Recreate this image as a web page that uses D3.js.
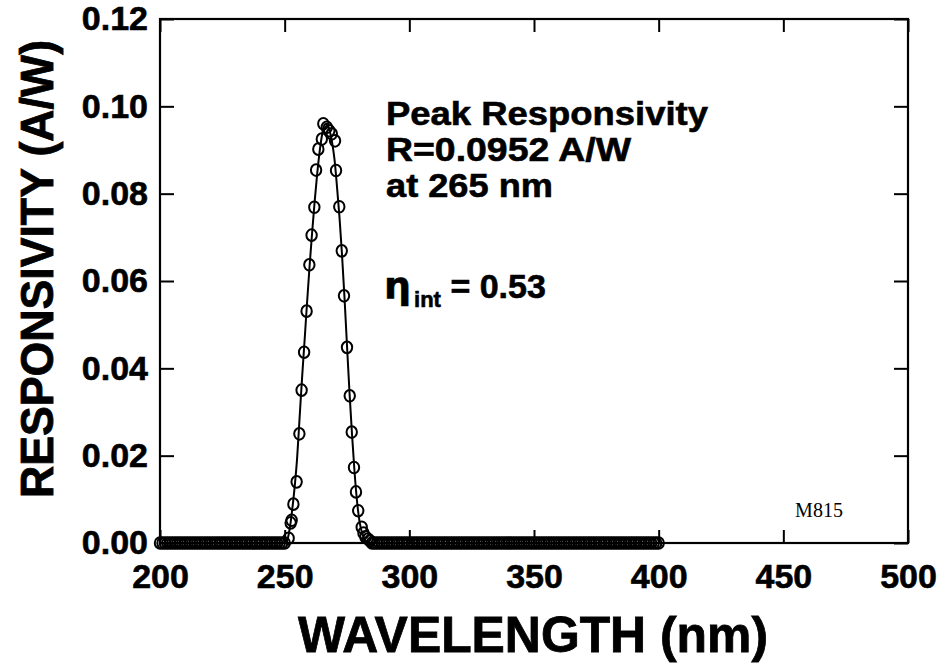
<!DOCTYPE html>
<html>
<head>
<meta charset="utf-8">
<script src="https://cdn.jsdelivr.net/npm/d3@7"></script>
<style>
  body { margin: 0; background: #fff; }
  svg { display: block; }
  .tick text { font-family: "Liberation Sans", Arial, sans-serif; font-weight: bold; }
</style>
</head>
<body>
<div id="chart"></div>
<script>
// canvas size
var svgWidth = 941;
var svgHeight = 663;

// plot frame (pixel edges of the box)
var margin = { top: 19, right: 33, bottom: 120, left: 160 };
var width = svgWidth - margin.left - margin.right;   // 748
var height = svgHeight - margin.top - margin.bottom; // 524

// measured points on the peak (wavelength nm, responsivity A/W)
var peakWl = [251.6, 252.4, 252.8, 253.5, 254.8, 255.9, 256.8, 257.8, 258.8, 259.9,
  260.8, 261.9, 262.6, 263.5, 264.9, 265.5, 266.9, 267.9, 268.9, 270.2,
  270.6, 271.9, 272.9, 273.8, 275.0, 276.1, 276.9, 277.8, 278.6, 279.5,
  280.9, 281.6, 282.4, 283.4, 284.2];
var peakR = [0.0011, 0.0046, 0.0052, 0.0089, 0.0140, 0.0250, 0.0350, 0.0437, 0.0531, 0.0637,
  0.0705, 0.0769, 0.0854, 0.0902, 0.0925, 0.0960, 0.0952, 0.0944, 0.0937, 0.0921,
  0.0853, 0.0770, 0.0669, 0.0566, 0.0448, 0.0337, 0.0254, 0.0173, 0.0117, 0.0074,
  0.0036, 0.0023, 0.0014, 0.0009, 0.0005];

// measured points lying on the zero line (every nm, read as 0.000 A/W)
var zeroWl = d3.range(200, 251).concat(d3.range(285, 401));

// fitted curve
var fitWl = [250, 251, 252, 253, 254, 255, 256, 257, 258, 259, 260, 261, 262, 263, 264, 265,
  266, 267, 268, 269, 270, 271, 272, 273, 274, 275, 276, 277, 278, 279, 280, 281, 282, 283, 284];
var fitR = [0, 0.0006, 0.0032, 0.0075, 0.0128, 0.0195, 0.0288, 0.0380, 0.0465, 0.0552,
  0.0635, 0.0710, 0.0780, 0.0843, 0.0895, 0.0935, 0.0958, 0.0960, 0.0945, 0.0918,
  0.0878, 0.0815, 0.0745, 0.0660, 0.0562, 0.0452, 0.0345, 0.0250, 0.0165, 0.0097,
  0.0050, 0.0024, 0.0010, 0.0003, 0];

var xTicks = [200, 250, 300, 350, 400, 450, 500];
var yTicks = [0, 0.02, 0.04, 0.06, 0.08, 0.10, 0.12];

var svg = d3.select("#chart")
  .append("svg")
  .attr("width", svgWidth)
  .attr("height", svgHeight);

var chartGroup = svg.append("g")
  .attr("transform", `translate(${margin.left}, ${margin.top})`);

var xScale = d3.scaleLinear().domain([200, 500]).range([0, width]);
var yScale = d3.scaleLinear().domain([0, 0.12]).range([height, 0]);

// axes with inward ticks on all four sides
var fmtY = d3.format(".2f");

var bottomAxis = d3.axisBottom(xScale).tickValues(xTicks).tickSizeInner(-13).tickSizeOuter(0).tickPadding(21);
var topAxis = d3.axisTop(xScale).tickValues(xTicks).tickSizeInner(-13).tickSizeOuter(0).tickFormat("");
var leftAxis = d3.axisLeft(yScale).tickValues(yTicks).tickSizeInner(-14).tickSizeOuter(0).tickPadding(12).tickFormat(fmtY);
var rightAxis = d3.axisRight(yScale).tickValues(yTicks).tickSizeInner(-14).tickSizeOuter(0).tickFormat("");

function styleAxis(g) {
  g.select(".domain").remove();
  g.selectAll(".tick line").attr("stroke", "#000").attr("stroke-width", 2);
  g.selectAll(".tick text").attr("fill", "#000").attr("font-size", 34)
    .attr("stroke", "#000").attr("stroke-width", 0.6);
}

chartGroup.append("g").attr("transform", `translate(0, ${height})`).call(bottomAxis).call(styleAxis);
chartGroup.append("g").call(topAxis).call(styleAxis);
chartGroup.append("g").call(leftAxis).call(styleAxis);
chartGroup.append("g").attr("transform", `translate(${width}, 0)`).call(rightAxis).call(styleAxis);

// frame
chartGroup.append("rect")
  .attr("x", 0).attr("y", 0)
  .attr("width", width).attr("height", height)
  .attr("fill", "none")
  .attr("stroke", "#000")
  .attr("stroke-width", 2.2);

// fitted line
var fitData = fitWl.map((w, i) => ({ w: w, r: fitR[i] }));
var line = d3.line()
  .x(d => xScale(d.w))
  .y(d => yScale(d.r))
  .curve(d3.curveMonotoneX);

chartGroup.append("path")
  .datum(fitData)
  .attr("d", line)
  .attr("fill", "none")
  .attr("stroke", "#000")
  .attr("stroke-width", 2);

// measured points
var points = zeroWl.map(w => ({ w: w, r: 0 }))
  .concat(peakWl.map((w, i) => ({ w: w, r: peakR[i] })));

chartGroup.selectAll("ellipse.pt")
  .data(points)
  .enter()
  .append("ellipse")
  .attr("class", "pt")
  .attr("cx", d => xScale(d.w))
  .attr("cy", d => yScale(d.r))
  .attr("rx", 5.2)
  .attr("ry", 5.8)
  .attr("fill", "none")
  .attr("stroke", "#000")
  .attr("stroke-width", 2);

// annotation block
var note = svg.append("g")
  .attr("font-family", "'Liberation Sans', Arial, sans-serif")
  .attr("font-weight", "bold")
  .attr("font-size", 34)
  .attr("fill", "#000")
  .attr("stroke", "#000")
  .attr("stroke-width", 0.6);

note.append("text").attr("x", 386).attr("y", 125).attr("textLength", 322).attr("lengthAdjust", "spacingAndGlyphs").text("Peak Responsivity");
note.append("text").attr("x", 386).attr("y", 161).attr("textLength", 245).attr("lengthAdjust", "spacingAndGlyphs").text("R=0.0952 A/W");
note.append("text").attr("x", 386).attr("y", 197).attr("textLength", 167).attr("lengthAdjust", "spacingAndGlyphs").text("at 265 nm");

var eta = note.append("text").attr("x", 384).attr("y", 298);
eta.append("tspan").attr("font-family", "'DejaVu Sans', sans-serif").attr("font-size", 38).text("η");
eta.append("tspan").attr("font-size", 22).attr("dy", 9).attr("dx", 3).text("int");
eta.append("tspan").attr("dy", -9).text(" = 0.53");

// sample id
svg.append("text")
  .attr("x", 819).attr("y", 517)
  .attr("text-anchor", "middle")
  .attr("font-family", "'Liberation Serif', 'Times New Roman', serif")
  .attr("font-size", 20)
  .text("M815");

// axis titles
svg.append("text")
  .attr("x", 533).attr("y", 652)
  .attr("text-anchor", "middle")
  .attr("font-family", "'Liberation Sans', Arial, sans-serif")
  .attr("font-weight", "bold")
  .attr("font-size", 50)
  .attr("stroke", "#000").attr("stroke-width", 0.8)
  .attr("textLength", 470).attr("lengthAdjust", "spacingAndGlyphs")
  .text("WAVELENGTH (nm)");

svg.append("text")
  .attr("transform", "translate(53, 269) rotate(-90)")
  .attr("text-anchor", "middle")
  .attr("font-family", "'Liberation Sans', Arial, sans-serif")
  .attr("font-weight", "bold")
  .attr("font-size", 47)
  .attr("stroke", "#000").attr("stroke-width", 0.8)
  .attr("textLength", 458).attr("lengthAdjust", "spacingAndGlyphs")
  .text("RESPONSIVITY (A/W)");
</script>
</body>
</html>
